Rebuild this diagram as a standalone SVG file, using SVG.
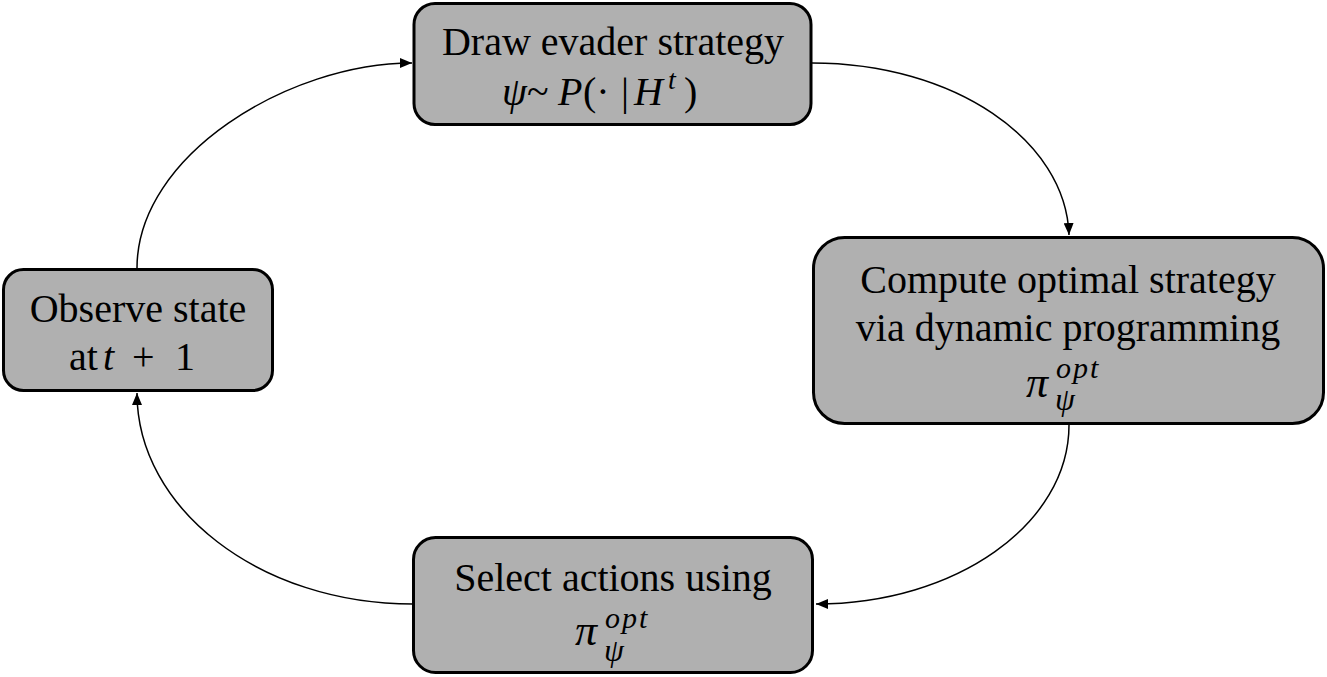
<svg xmlns="http://www.w3.org/2000/svg" width="1327" height="677" viewBox="0 0 1327 677">
<style>
.box{fill:#b0b0b0;stroke:#000;stroke-width:3}
.t{font-family:"Liberation Serif","Times New Roman",serif;font-size:40px;fill:#000}
.m{font-family:"Liberation Serif","Times New Roman",serif;font-style:italic;fill:#000}
.c{fill:none;stroke:#000;stroke-width:1.5}
</style>
<defs>
<marker id="ah" markerUnits="userSpaceOnUse" markerWidth="13" markerHeight="10" refX="12" refY="5" orient="auto">
<path d="M0,0 L12,5 L0,10 z" fill="#000"/>
</marker>
</defs>
<g id="connectors">
<path class="c" d="M137,268 C137,155 289,63 412,63" marker-end="url(#ah)"/>
<path class="c" d="M812,63 C954,63 1066,140 1069,235" marker-end="url(#ah)"/>
<path class="c" d="M1069,425 C1069,524 956,604 816,604" marker-end="url(#ah)"/>
<path class="c" d="M413,604 C260,604 137,509 137,393" marker-end="url(#ah)"/>
</g>
<g id="draw">
<rect class="box" x="414" y="3.5" width="397" height="121" rx="21"/>
<text class="t" x="613" y="55" text-anchor="middle">Draw evader strategy</text>
<text class="m" font-size="40" y="105"><tspan x="502">ψ</tspan><tspan x="527" font-style="normal">~</tspan><tspan x="558">P</tspan><tspan x="583" font-style="normal">(·</tspan><tspan x="621" font-style="normal">|</tspan><tspan x="634">H</tspan><tspan x="668" y="89" font-size="28">t</tspan><tspan x="684" y="105" font-style="normal">)</tspan></text>
</g>
<g id="compute">
<rect class="box" x="813.5" y="237.5" width="510" height="186" rx="31"/>
<text class="t" x="1068" y="293" text-anchor="middle">Compute optimal strategy</text>
<text class="t" x="1068" y="341" text-anchor="middle">via dynamic programming</text>
<text class="m" font-size="44" x="1026" y="397">π</text>
<text class="m" font-size="30" x="1056" y="378" letter-spacing="2">opt</text>
<text class="m" font-size="32" x="1055" y="410">ψ</text>
</g>
<g id="observe">
<rect class="box" x="3.5" y="269.5" width="269" height="121" rx="20"/>
<text class="t" x="138" y="322" text-anchor="middle">Observe state</text>
<text class="t" y="370"><tspan x="69">at</tspan><tspan x="103" font-style="italic">t</tspan><tspan x="132">+</tspan><tspan x="175">1</tspan></text>
</g>
<g id="select">
<rect class="box" x="413.5" y="537.5" width="399" height="135" rx="22"/>
<text class="t" x="613" y="591" text-anchor="middle">Select actions using</text>
<text class="m" font-size="44" x="575" y="645">π</text>
<text class="m" font-size="30" x="605" y="628" letter-spacing="2">opt</text>
<text class="m" font-size="32" x="604" y="661">ψ</text>
</g>
</svg>
